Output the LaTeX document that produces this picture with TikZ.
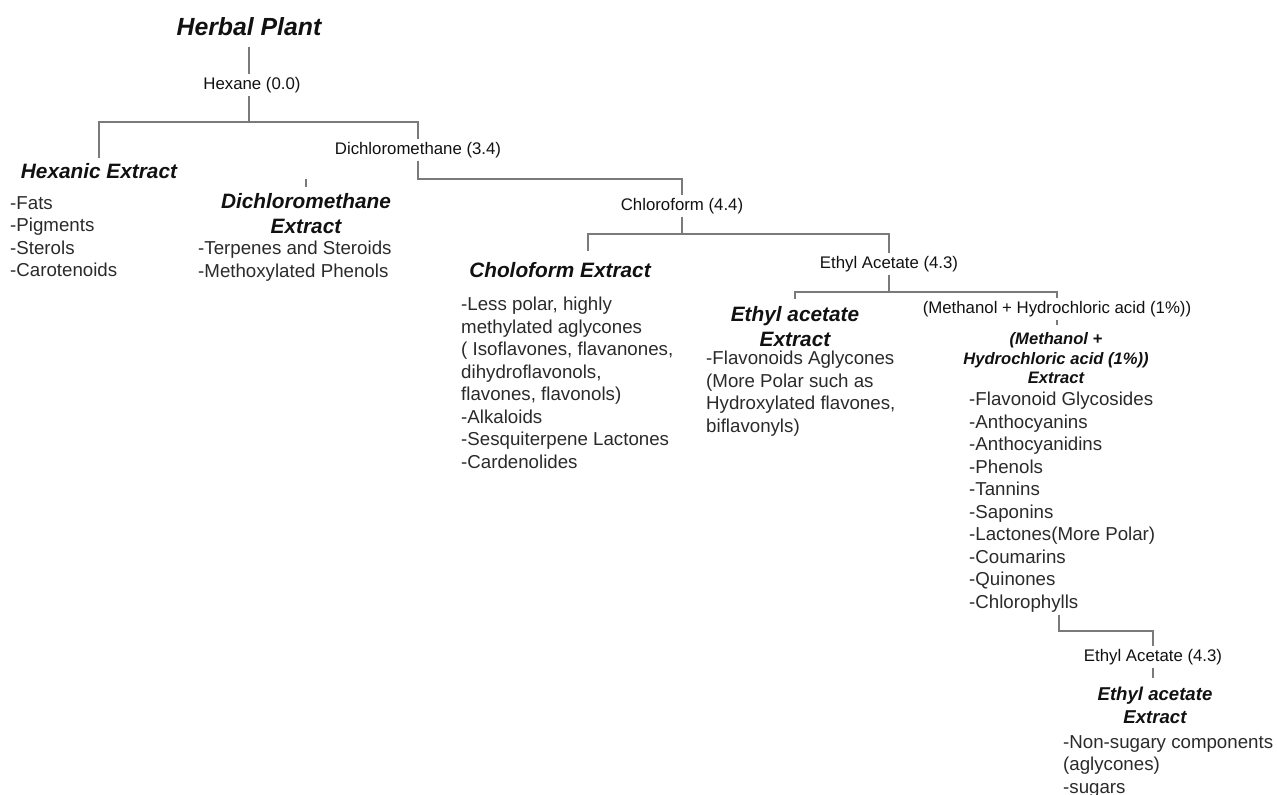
\documentclass[tikz,border=0pt]{standalone}
\usepackage{fontspec}
\setmainfont{Liberation Sans}
\usetikzlibrary{
  positioning,
  calc,
}
\definecolor{lineCol}{HTML}{7A7A7A}
\definecolor{textCol}{HTML}{111111}
\definecolor{textSub}{HTML}{2A2A2A}
\tikzset{
  title/.style={
    font=\fontsize{24.8}{30}\selectfont\bfseries\itshape, text=textCol, inner sep=3pt,
  },
  extract/.style={
    font=\fontsize{20.8}{25}\selectfont\bfseries\itshape, text=textCol,
    align=center, inner sep=0pt,
  },
  smallextract/.style={
    extract, font=\fontsize{16.6}{19.5}\selectfont\bfseries\itshape,
  },
  solvent/.style={
    font=\fontsize{16.8}{20}\selectfont, text=textCol, inner sep=3pt, anchor=base,
  },
  itemlist/.style={
    font=\fontsize{18.7}{22.5}\selectfont, text=textSub,
    align=left, anchor=north west, inner sep=0pt,
  },
  link/.style={draw=lineCol, line width=1.5pt},
}

\begin{document}
\begin{tikzpicture}[x=1pt, y=-1pt]
  \useasboundingbox (0,0) rectangle (1277,795);

  \node[title, anchor=base] (plant) at (249, 35) {Herbal Plant};

  % Solvents
  \node[solvent] (hexane) at (252, 89) {Hexane (0.0)};
  \node[solvent] (dcm) at (418, 154) {Dichloromethane (3.4)};
  \node[solvent] (chl) at (682, 210) {Chloroform (4.4)};
  \node[solvent] (ea1) at (889, 268) {Ethyl Acetate (4.3)};
  \node[solvent] (meth) at (1057, 313) {(Methanol + Hydrochloric acid (1\%))};
  \node[solvent] (ea2) at (1153, 661) {Ethyl Acetate (4.3)};

  % Extracts
  \node[extract, anchor=base] (hexext) at (99, 178) {Hexanic Extract};
  \node[itemlist] (hexlist) at (10, 196) {-Fats\\-Pigments\\-Sterols\\-Carotenoids};

  \node[extract, anchor=north] (dcmext) at (306, 193.5) {Dichloromethane\\Extract};
  \node[itemlist] (dcmlist) at (198, 241) {-Terpenes and Steroids\\-Methoxylated Phenols};

  \node[extract, anchor=base] (chlext) at (560, 277) {Choloform Extract};
  \node[itemlist] (chllist) at (461, 297) {-Less polar, highly\\methylated aglycones\\( Isoflavones, flavanones,\\dihydroflavonols,\\flavones, flavonols)\\-Alkaloids\\-Sesquiterpene Lactones\\-Cardenolides};

  \node[extract, anchor=north] (eaext) at (795, 306.5) {Ethyl acetate\\Extract};
  \node[itemlist] (ealist) at (706, 351) {-Flavonoids Aglycones\\(More Polar such as\\Hydroxylated flavones,\\biflavonyls)};

  \node[smallextract, anchor=north] (methext) at (1056, 332.7) {(Methanol +\\Hydrochloric acid (1\%))\\Extract};
  \node[itemlist] (methlist) at (969, 392) {-Flavonoid Glycosides\\-Anthocyanins\\-Anthocyanidins\\-Phenols\\-Tannins\\-Saponins\\-Lactones(More Polar)\\-Coumarins\\-Quinones\\-Chlorophylls};

  \node[extract, anchor=north, font=\fontsize{18.6}{23}\selectfont\bfseries\itshape] (ea2ext) at (1155, 687) {Ethyl acetate\\Extract};
  \node[itemlist] (ea2list) at (1063, 735) {-Non-sugary components\\(aglycones)\\-sugars};

  % Connectors
  \draw[link, shorten <=9pt] (plant.south) -- (plant.south |- hexane.north);
  \draw[link] (plant.south |- hexane.south) -- ++(0, 26.5) coordinate (hexsplit);
  \draw[link, shorten >=5pt] (hexsplit) -| (hexext.north);
  \draw[link] (hexsplit) -| (dcm.north);

  \draw[link] (dcm.south) -- ++(0, 18.4) -| (chl.north);
  \draw[link] ([yshift=6.5pt]dcmext.north) -- ++(0, -8);

  \draw[link] (chl.south) -- ++(0, 17.4) coordinate (chlsplit);
  \draw[link, shorten >=11pt] (chlsplit) -| ([xshift=28pt]chlext.north);
  \draw[link] (chlsplit) -| (ea1.north);

  \draw[link] (ea1.south) -- ++(0, 17.4) coordinate (easplit);
  \draw[link, shorten >=8pt] (easplit) -| (eaext.north);
  \draw[link] (easplit) -| (meth.north);
  \draw[link] (meth.south) -- ++(0, 5);

  \draw[link] ([xshift=90pt, yshift=-2.5pt]methlist.south west) -- ++(0, 16) -| (ea2.north);
  \draw[link] (ea2.south) -- ++(0, 10);

\end{tikzpicture}
\end{document}
